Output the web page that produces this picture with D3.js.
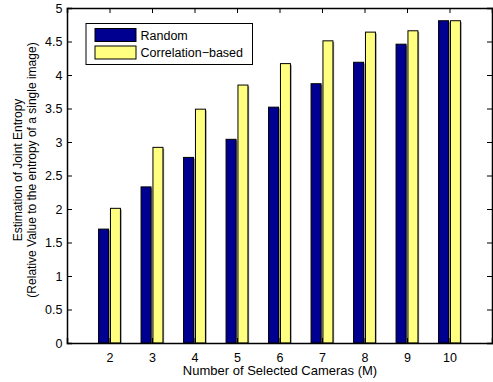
<!DOCTYPE html>
<html>
<head>
<meta charset="utf-8">
<script src="https://cdn.jsdelivr.net/npm/d3@7"></script>
<style>
  body { margin: 0; background: #fff; }
  text { font-family: "Liberation Sans", Arial, Helvetica, sans-serif; }
</style>
</head>
<body>
<svg id="mainsvg" width="493" height="382"></svg>
<script>
const cameras = [2, 3, 4, 5, 6, 7, 8, 9, 10];
const randomVals = [1.70, 2.33, 2.77, 3.04, 3.52, 3.87, 4.19, 4.46, 4.81];
const corrVals = [2.01, 2.92, 3.49, 3.85, 4.17, 4.51, 4.64, 4.66, 4.81];
const seriesNames = ['Random', 'Correlation\u2212based'];
const seriesColors = ['#000090', '#ffff80'];
const yTicks = [0, 0.5, 1, 1.5, 2, 2.5, 3, 3.5, 4, 4.5, 5];

const svg = d3.select('#mainsvg');
const margin = { top: 8, right: 1, bottom: 39, left: 67 };
const width = +svg.attr('width');
const height = +svg.attr('height');
const innerWidth = width - margin.left - margin.right;
const innerHeight = height - margin.top - margin.bottom;

const g = svg.append('g')
  .attr('transform', `translate(${margin.left}, ${margin.top})`);

const x = d3.scaleLinear().domain([1, 11]).range([0, innerWidth]);
const y = d3.scaleLinear().domain([0, 5]).range([innerHeight, 0]);

const barW = x(1.235) - x(1);
const offset = x(1.14) - x(1);

const series = [randomVals, corrVals];

series.forEach((vals, si) => {
  const data = cameras.map((c, i) => ({ c, v: vals[i] }));
  const cx = d => x(d.c) + (si === 0 ? -offset : offset) - barW / 2;
  // grey shadow on the right edge
  g.append('g').selectAll('rect').data(data).join('rect')
    .attr('x', d => cx(d) + 1.2)
    .attr('y', d => y(d.v) + 1.2)
    .attr('width', barW)
    .attr('height', d => y(0) - y(d.v) - 1.2)
    .attr('fill', '#888');
  g.append('g').selectAll('rect').data(data).join('rect')
    .attr('x', cx)
    .attr('y', d => y(d.v))
    .attr('width', barW)
    .attr('height', d => y(0) - y(d.v))
    .attr('fill', seriesColors[si])
    .attr('stroke', '#000')
    .attr('stroke-width', 1);
});

// axes
const fontSize = '12.5px';
const axLeft = g.append('g').call(d3.axisLeft(y).tickValues(yTicks).tickSize(-5).tickPadding(4.5).tickFormat(d3.format('')));
const axRight = g.append('g').attr('transform', `translate(${innerWidth},0)`)
  .call(d3.axisRight(y).tickValues(yTicks).tickSize(-5));
const axBottom = g.append('g').attr('transform', `translate(0,${innerHeight})`)
  .call(d3.axisBottom(x).tickValues(cameras).tickSize(-5).tickPadding(10.5).tickFormat(d3.format('d')));
const axTop = g.append('g')
  .call(d3.axisTop(x).tickValues(cameras).tickSize(-5));

// mirrored axes carry ticks only
axRight.selectAll('text').remove();
axTop.selectAll('text').remove();

[axLeft, axRight, axBottom, axTop].forEach(ax => {
  ax.select('.domain').attr('stroke', '#000').attr('stroke-width', 1.5);
  ax.selectAll('.tick line').attr('stroke', '#000');
  ax.selectAll('text').attr('font-size', fontSize).attr('fill', '#000')
    .style('font-family', '"Liberation Sans", Arial, sans-serif');
});

// axis labels
svg.append('text')
  .attr('x', 280)
  .attr('y', 375)
  .attr('text-anchor', 'middle')
  .attr('font-size', '13px')
  .text('Number of Selected Cameras (M)');

const ylab = svg.append('text')
  .attr('transform', 'translate(0, 170) rotate(-90)')
  .attr('text-anchor', 'middle')
  .attr('font-size', '12px');
ylab.append('tspan').attr('x', 0).attr('y', 21.5).text('Estimation of Joint Entropy');
ylab.append('tspan').attr('x', 0).attr('y', 35.5).text('(Relative Value to the entropy of a single image)');

// legend
const legend = svg.append('g');
legend.append('rect')
  .attr('x', 86).attr('y', 23.5)
  .attr('width', 166.5).attr('height', 41)
  .attr('fill', '#fff').attr('stroke', '#000').attr('stroke-width', 1);
seriesNames.forEach((name, i) => {
  legend.append('rect')
    .attr('x', 95).attr('y', 28.5 + i * 17.5)
    .attr('width', 41).attr('height', 13)
    .attr('fill', seriesColors[i]).attr('stroke', '#000');
  legend.append('text')
    .attr('x', 140.5).attr('y', 39.5 + i * 17.5)
    .attr('font-size', fontSize)
    .text(name);
});
</script>
</body>
</html>
